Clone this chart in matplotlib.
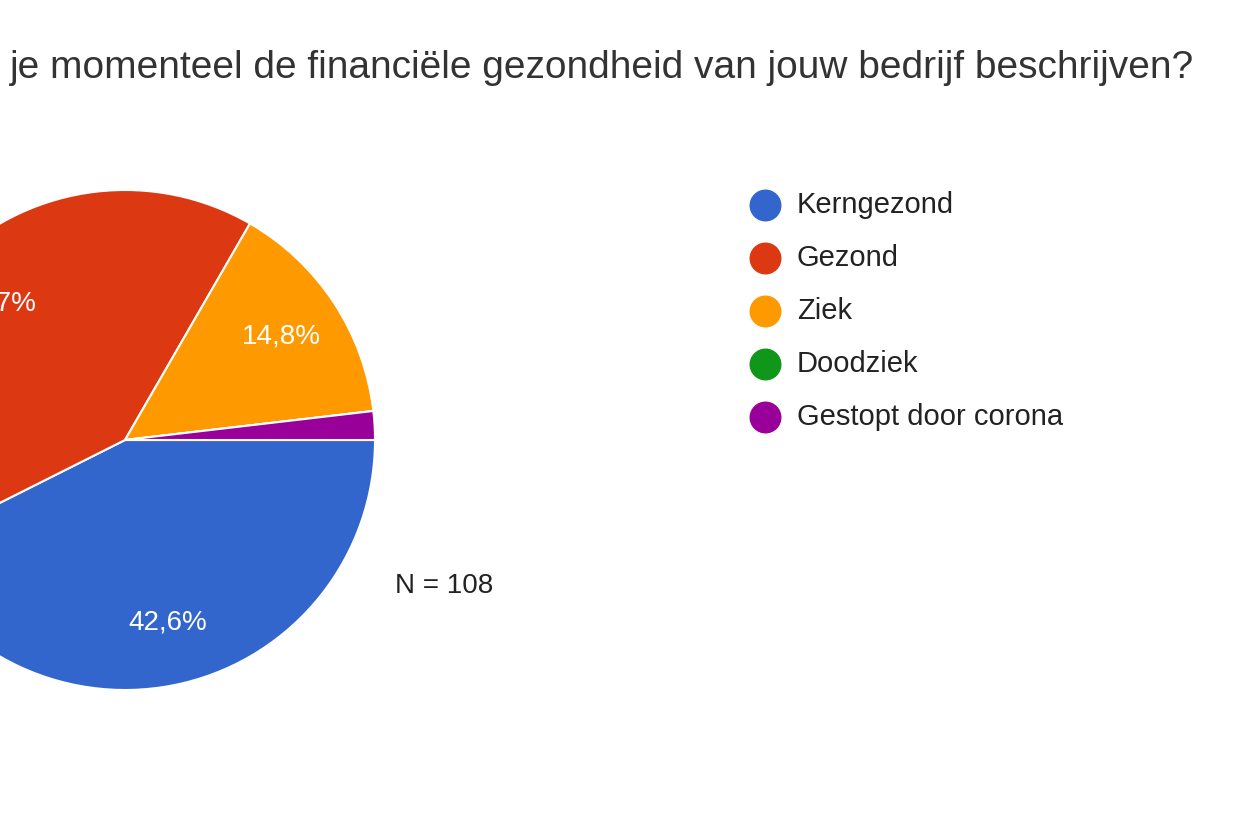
import matplotlib
matplotlib.use('Agg')
import matplotlib.pyplot as plt

plt.rcParams['font.family'] = ['Liberation Sans', 'DejaVu Sans']

# Data
categories = ['Kerngezond', 'Gezond', 'Ziek', 'Doodziek', 'Gestopt door corona']
counts = [46, 44, 16, 0, 2]
colors = ['#3366cc', '#dc3912', '#ff9900', '#109618', '#990099']
title_pre = 'Hoe zou '
title_main = 'je momenteel de financiële gezondheid van jouw bedrijf beschrijven?'
n_label = 'N = 108'

W, H = 1260, 840
fig = plt.figure(figsize=(W / 100, H / 100), dpi=100)

# pie centre at (125, 440) px, radius 250 px
cx, cy, r = 125, 440, 250
ax = fig.add_axes([(cx - r) / W, 1 - (cy + r) / H, 2 * r / W, 2 * r / H])

def fmt(p):
    return f'{p:.1f}%'.replace('.', ',') if p >= 5 else ''

wedges, texts, autotexts = ax.pie(
    counts, colors=colors, startangle=0, counterclock=False,
    autopct=fmt, pctdistance=0.75,
    wedgeprops=dict(edgecolor='white', linewidth=1.5),
    textprops=dict(color='white', fontsize=20))
for w in wedges:
    w.set_clip_on(False)
ax.set_xlim(-1, 1)
ax.set_ylim(-1, 1)
ax.set_aspect('auto')
ax.axis('off')

# title (cut off on both sides like the reference)
fig.text(10 / W, 1 - 68 / H, title_pre, fontsize=28, color='#333333', va='center', ha='right')
fig.text(10 / W, 1 - 68 / H, title_main, fontsize=28, color='#333333', va='center', ha='left')

# legend
lax = fig.add_axes([0, 0, 1, 1])
lax.set_xlim(0, W)
lax.set_ylim(H, 0)
lax.axis('off')
for i, (lab, c) in enumerate(zip(categories, colors)):
    y = 205 + 53 * i
    lax.plot(765, y, 'o', markersize=22, color=c)
    lax.text(797, y, lab, fontsize=21, color='#222222', va='center', ha='left')

lax.text(395, 586, n_label, fontsize=20, color='#222222', va='center', ha='left')

fig.savefig('out.png', dpi=100, facecolor='white')
